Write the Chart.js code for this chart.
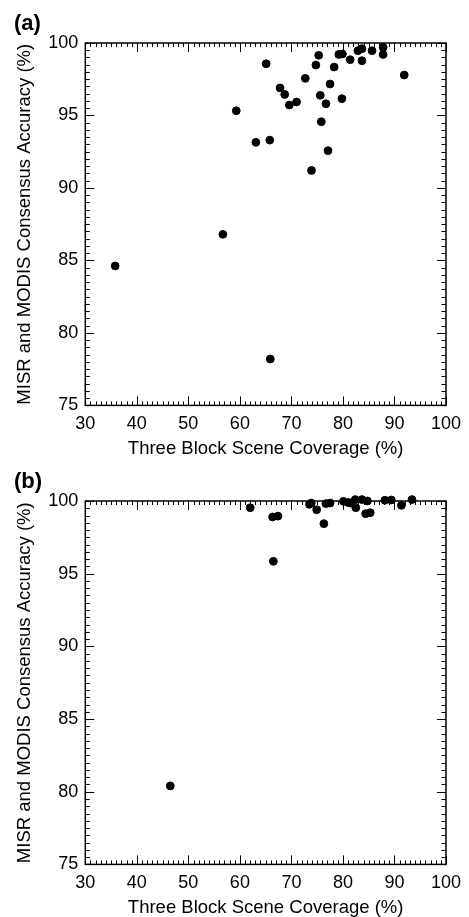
<!DOCTYPE html>
<html>
<head>
<meta charset="utf-8">
<script src="https://cdn.jsdelivr.net/npm/chart.js@4/dist/chart.umd.min.js"></script>
<style>
    html, body { margin: 0; padding: 0; background: #fff; }
    .panel { position: relative; width: 469px; }
    #panel-a { height: 458px; }
    #panel-b { height: 459px; }
</style>
</head>
<body>
<div class="panel" id="panel-a"><canvas id="chart-a"></canvas></div>
<div class="panel" id="panel-b"><canvas id="chart-b"></canvas></div>
<script>
// panel (a)
const coverageA = [35.8, 56.7, 59.3, 63.1, 65.1, 65.8, 65.9, 67.8, 68.7, 69.6,
    71.0, 72.7, 73.9, 74.75, 75.3, 75.6, 75.8, 76.7, 77.1, 77.5,
    78.3, 79.2, 79.8, 79.9, 81.4, 82.9, 83.7, 83.7, 85.65, 87.8,
    87.8, 91.9];
const accuracyA = [84.62, 86.8, 95.33, 93.15, 98.57, 93.3, 78.2, 96.9, 96.45, 95.72,
    95.93, 97.56, 91.21, 98.48, 99.15, 96.39, 94.57, 95.81, 92.57, 97.17,
    98.34, 99.21, 96.16, 99.24, 98.85, 99.47, 99.61, 98.78, 99.47, 99.7,
    99.21, 97.79];

// panel (b)
const coverageB = [46.5, 62.0, 66.35, 66.5, 67.4, 73.5, 73.85, 74.9, 76.3, 76.7,
    77.5, 80.1, 81.0, 81.4, 82.4, 82.5, 83.7, 84.4, 84.75, 85.3,
    88.15, 89.4, 91.35, 93.4];
const accuracyB = [80.4, 99.54, 98.9, 95.85, 98.96, 99.77, 99.86, 99.4, 98.44, 99.82,
    99.86, 99.98, 99.9, 99.86, 100.1, 99.54, 100.1, 99.13, 100.0, 99.2,
    100.05, 100.07, 99.7, 100.1];

const xTickValues = [30, 40, 50, 60, 70, 80, 90, 100];
const yTickValues = [75, 80, 85, 90, 95, 100];

const xTitle = 'Three Block Scene Coverage (%)';
const yTitle = 'MISR and MODIS Consensus Accuracy (%)';

const fontFamily = "'Liberation Sans', Arial, Helvetica, sans-serif";

// IDL style frame with inward ticks on all four sides
const frameTicks = {
    id: 'frameTicks',
    afterDraw(chart) {
        const c = chart.ctx;
        const a = chart.chartArea;
        const x = chart.scales.x;
        const y = chart.scales.y;
        c.save();
        c.strokeStyle = '#000';
        c.lineWidth = 1;
        c.beginPath();
        for (let v = 30; v <= 100; v++) {
            const px = Math.round(x.getPixelForValue(v)) + 0.5;
            const len = v % 10 === 0 ? 9 : 4;
            c.moveTo(px, a.bottom);
            c.lineTo(px, a.bottom - len);
            c.moveTo(px, a.top);
            c.lineTo(px, a.top + len);
        }
        for (let i = 0; i <= 50; i++) {
            const v = 75 + i * 0.5;
            const py = Math.round(y.getPixelForValue(v)) + 0.5;
            const len = i % 10 === 0 ? 9 : 4.5;
            c.moveTo(a.left, py);
            c.lineTo(a.left + len, py);
            c.moveTo(a.right, py);
            c.lineTo(a.right - len, py);
        }
        c.stroke();
        c.lineWidth = 1.5;
        c.strokeRect(a.left, a.top, a.right - a.left, a.bottom - a.top);
        c.restore();
    }
};

function makeChart(id, label, xs, ys) {
    const points = xs.map((v, i) => ({ x: v, y: ys[i] }));
    return new Chart(
        document.getElementById(id),
        {
            type: 'scatter',
            data: {
                datasets: [
                    {
                        data: points,
                        backgroundColor: '#000',
                        borderColor: '#000',
                        pointRadius: 3.9,
                        pointHoverRadius: 3.9,
                        clip: false
                    }
                ]
            },
            options: {
                responsive: true,
                maintainAspectRatio: false,
                animation: false,
                layout: {
                    padding: { left: 14, right: 19.5, top: 0, bottom: 0 }
                },
                plugins: {
                    legend: { display: false },
                    tooltip: { enabled: false },
                    title: {
                        display: true,
                        text: label,
                        align: 'start',
                        color: '#000',
                        font: { family: fontFamily, size: 22, weight: 'bold', lineHeight: 1.2 },
                        padding: { top: 11, bottom: 5.6 }
                    }
                },
                scales: {
                    x: {
                        type: 'linear',
                        min: 30,
                        max: 100,
                        afterBuildTicks: s => {
                            s.ticks = xTickValues.map(v => ({ value: v }));
                        },
                        afterFit: s => { s.height = 52.6; },
                        grid: { display: false, drawTicks: false },
                        border: { display: false },
                        ticks: {
                            color: '#000',
                            padding: 8,
                            maxRotation: 0,
                            font: { family: fontFamily, size: 18 }
                        },
                        title: {
                            display: true,
                            text: xTitle,
                            color: '#000',
                            font: { family: fontFamily, size: 18.5, lineHeight: 1.0 },
                            padding: { top: 0, bottom: 0 }
                        }
                    },
                    y: {
                        type: 'linear',
                        min: 75,
                        max: 100,
                        afterBuildTicks: s => {
                            s.ticks = yTickValues.map(v => ({ value: v }));
                        },
                        afterFit: s => { s.width = 71.3; },
                        grid: { display: false, drawTicks: false },
                        border: { display: false },
                        ticks: {
                            color: '#000',
                            padding: 7,
                            font: { family: fontFamily, size: 18 }
                        },
                        title: {
                            display: true,
                            text: yTitle,
                            color: '#000',
                            font: { family: fontFamily, size: 18.5, lineHeight: 1.0 },
                            padding: { top: 1.75, bottom: 0 }
                        }
                    }
                }
            },
            plugins: [frameTicks]
        }
    );
}

makeChart('chart-a', '(a)', coverageA, accuracyA);
makeChart('chart-b', '(b)', coverageB, accuracyB);
</script>
</body>
</html>
